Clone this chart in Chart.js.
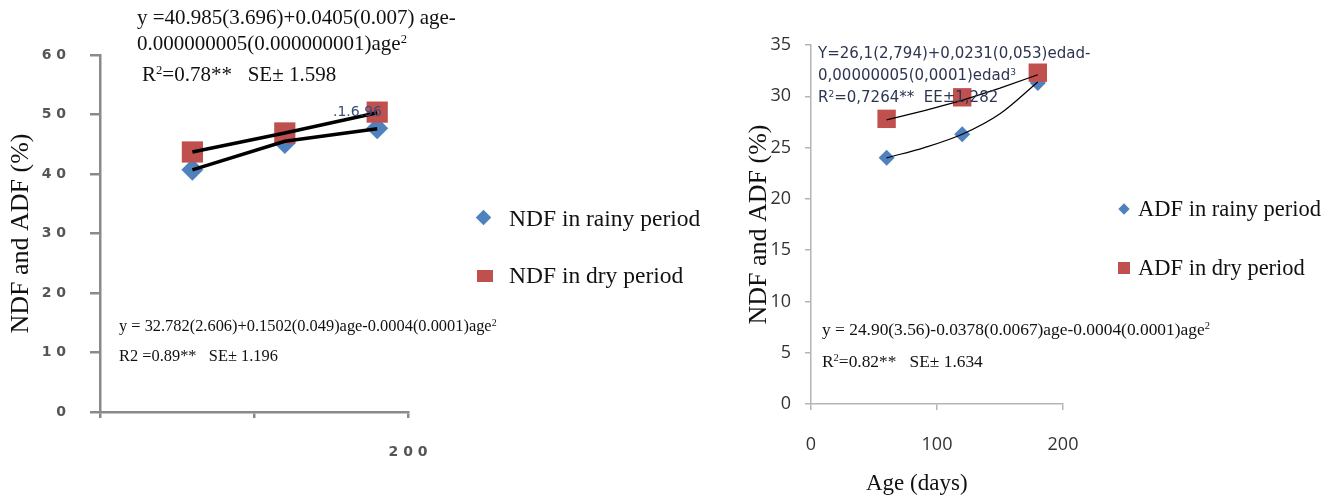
<!DOCTYPE html>
<html>
<head>
<meta charset="utf-8">
<script src="https://cdn.jsdelivr.net/npm/chart.js@4.4.1/dist/chart.umd.min.js"></script>
<style>
  html, body { margin: 0; padding: 0; background: #fff; }
  #stage { position: relative; width: 1332px; height: 497px; overflow: hidden; font-family: "Liberation Serif", serif; color: #111; }
  canvas { position: absolute; top: 0; }
  .txt { position: absolute; white-space: nowrap; line-height: 1; }
  .txt sup { font-size: 0.6em; vertical-align: 0.55em; line-height: 0; }
  .calib { font-family: "DejaVu Sans", sans-serif; font-size: 15px; color: #2d3550; }
  .leg { position: absolute; white-space: nowrap; line-height: 1; }
  .mk { position: absolute; }
</style>
</head>
<body>
<div id="stage">
  <canvas id="left" width="740" height="497" style="left:0"></canvas>
  <canvas id="right" width="592" height="497" style="left:740px"></canvas>

  <!-- left annotations -->
  <div class="txt" style="left:137px;top:7px;font-size:21px">y =40.985(3.696)+0.0405(0.007) age-</div>
  <div class="txt" style="left:137px;top:33px;font-size:21px">0.000000005(0.000000001)age<sup>2</sup></div>
  <div class="txt" style="left:142px;top:64px;font-size:21px">R<sup>2</sup>=0.78**&nbsp;&nbsp;&nbsp;SE± 1.598</div>
  <div class="txt calib" style="left:333px;top:104px;font-size:14px;color:#3a4a7a">.1.6.96</div>
  <div class="txt" style="left:119px;top:318px;font-size:16.4px">y = 32.782(2.606)+0.1502(0.049)age-0.0004(0.0001)age<sup>2</sup></div>
  <div class="txt" style="left:119px;top:348px;font-size:16.4px">R2 =0.89**&nbsp;&nbsp;&nbsp;SE± 1.196</div>

  <!-- left legend -->
  <div class="mk" style="left:478px;top:212px;width:11px;height:11px;background:#4F81BD;transform:rotate(45deg)"></div>
  <div class="leg" style="left:509px;top:207px;font-size:23.5px">NDF in rainy period</div>
  <div class="mk" style="left:477px;top:270px;width:16px;height:12px;background:#C0504D"></div>
  <div class="leg" style="left:509px;top:264px;font-size:23.5px">NDF in dry period</div>

  <!-- right annotations -->
  <div class="txt calib" style="left:818px;top:46px">Y=26,1(2,794)+0,0231(0,053)edad-</div>
  <div class="txt calib" style="left:818px;top:68px">0,00000005(0,0001)edad<sup>3</sup></div>
  <div class="txt calib" style="left:818px;top:90px">R<sup>2</sup>=0,7264**&nbsp;&nbsp;EE±1,282</div>
  <div class="txt" style="left:822px;top:321px;font-size:17.4px">y = 24.90(3.56)-0.0378(0.0067)age-0.0004(0.0001)age<sup>2</sup></div>
  <div class="txt" style="left:822px;top:353px;font-size:17.4px">R<sup>2</sup>=0.82**&nbsp;&nbsp;&nbsp;SE± 1.634</div>
  <div class="txt" style="left:866px;top:471px;font-size:23px">Age (days)</div>

  <!-- right legend -->
  <div class="mk" style="left:1120px;top:205px;width:8px;height:8px;background:#4F81BD;transform:rotate(45deg)"></div>
  <div class="leg" style="left:1138px;top:198px;font-size:22.5px">ADF in rainy period</div>
  <div class="mk" style="left:1118px;top:262px;width:12px;height:12px;background:#C0504D"></div>
  <div class="leg" style="left:1138px;top:257px;font-size:22.5px">ADF in dry period</div>
</div>
<script>
// ages (days)
const ages = [60, 120, 180];

// left chart: NDF (%)
const ndfRainy = [40.7, 45.2, 47.7];
const ndfDry = [43.7, 46.9, 50.4];
const ndfRainyFit = [40.7, 45.5, 47.6];
const ndfDryFit = [43.7, 46.9, 50.3];
const leftYTicks = ["0", "1 0", "2 0", "3 0", "4 0", "5 0", "6 0"];
const leftXTicks = ["", "", "2 0 0"];

// right chart: ADF (%)
const adfRainy = [24.0, 26.3, 31.3];
const adfDry = [27.8, 29.9, 32.3];
// fitted curves
const adfFitAges = [60, 90, 120, 150, 180];
const adfRainyFit = [24.0, 25.0, 26.3, 28.3, 31.4];
const adfDryFit = [27.7, 28.6, 29.6, 30.8, 32.1];
const rightYTicks = ["0", "5", "10", "15", "20", "25", "30", "35"];
const rightXTicks = ["0", "100", "200"];

const BLUE = "#4F81BD";
const RED = "#C0504D";

function pts(xs, ys) {
  return xs.map((x, i) => ({ x, y: ys[i] }));
}

function fixedBox(width, height) {
  return (scale) => {
    if (width != null) scale.width = width;
    if (height != null) scale.height = height;
  };
}

function makeChart(id, cfg) {
  const curve = cfg.smooth ? { cubicInterpolationMode: "monotone" } : { tension: 0 };
  return new Chart(document.getElementById(id), {
    type: "scatter",
    data: {
      datasets: [
        { data: pts(cfg.fitAges, cfg.dryFit), type: "line", borderColor: "#000", borderWidth: cfg.fitWidth, pointRadius: 0, tension: 0, order: 1 },
        { data: pts(cfg.fitAges, cfg.rainyFit), type: "line", borderColor: "#000", borderWidth: cfg.fitWidth, pointRadius: 0, ...curve, order: 1 },
        { data: pts(ages, cfg.dry), pointStyle: "rect", pointRadius: cfg.sqR, backgroundColor: RED, borderColor: RED, borderWidth: 0, order: 2 },
        { data: pts(ages, cfg.rainy), pointStyle: "rectRot", pointRadius: cfg.diaR, backgroundColor: BLUE, borderColor: BLUE, borderWidth: 0, order: 3 },
      ],
    },
    options: {
      animation: false,
      responsive: false,
      layout: { padding: cfg.padding },
      plugins: { legend: { display: false }, tooltip: { enabled: false } },
      scales: {
        x: {
          type: "linear", min: 0, max: 200,
          afterFit: fixedBox(null, cfg.xHeight),
          afterBuildTicks: (s) => { s.ticks = [0, 100, 200].map((v) => ({ value: v })); },
          ticks: { callback: (v, i) => cfg.xLabels[i], color: cfg.tickColor, font: cfg.xFont, padding: cfg.xPad, maxRotation: 0 },
          grid: { drawOnChartArea: false, drawTicks: true, tickLength: 6, color: cfg.axisColor, lineWidth: cfg.axisWidth },
          border: { color: cfg.axisColor, width: cfg.axisWidth },
        },
        y: {
          type: "linear", min: 0, max: cfg.yMax,
          afterFit: fixedBox(cfg.yWidth, null),
          ticks: { stepSize: cfg.yStep, callback: (v, i) => cfg.yLabels[i], color: cfg.tickColor, font: cfg.yFont, padding: cfg.yPad },
          grid: { drawOnChartArea: false, drawTicks: true, tickLength: cfg.yTick, color: cfg.axisColor, lineWidth: cfg.axisWidth },
          border: { color: cfg.axisColor, width: cfg.axisWidth },
          title: { display: true, text: "NDF and ADF (%)", color: "#111", font: { family: "Liberation Serif", size: 26 }, padding: { top: cfg.titlePad, bottom: 0 } },
        },
      },
    },
  });
}

makeChart("left", {
  rainy: ndfRainy, dry: ndfDry, rainyFit: ndfRainyFit, dryFit: ndfDryFit, fitAges: ages,
  fitWidth: 3.5, smooth: false, sqR: 15, diaR: 11,
  padding: { left: 0, right: 332, top: 55, bottom: 0 },
  xHeight: 85, yWidth: 100, yMax: 60, yStep: 10,
  xLabels: leftXTicks, yLabels: leftYTicks,
  tickColor: "#555", axisColor: "#8a8a8a", axisWidth: 2.5,
  xFont: { family: "DejaVu Sans", size: 14, weight: "bold" },
  yFont: { family: "DejaVu Sans", size: 14, weight: "bold" },
  xPad: 26, yPad: 24, yTick: 10, titlePad: 6,
});

makeChart("right", {
  rainy: adfRainy, dry: adfDry, rainyFit: adfRainyFit, dryFit: adfDryFit, fitAges: adfFitAges,
  fitWidth: 1.2, smooth: true, sqR: 13, diaR: 8,
  padding: { left: 0, right: 269, top: 45, bottom: 0 },
  xHeight: 93, yWidth: 71, yMax: 35, yStep: 5,
  xLabels: rightXTicks, yLabels: rightYTicks,
  tickColor: "#333", axisColor: "#b5b5b5", axisWidth: 1.5,
  xFont: { family: "Open Sans", size: 18 },
  yFont: { family: "Open Sans", size: 18 },
  xPad: 24, yPad: 14, yTick: 6, titlePad: 4,
});
</script>
</body>
</html>
